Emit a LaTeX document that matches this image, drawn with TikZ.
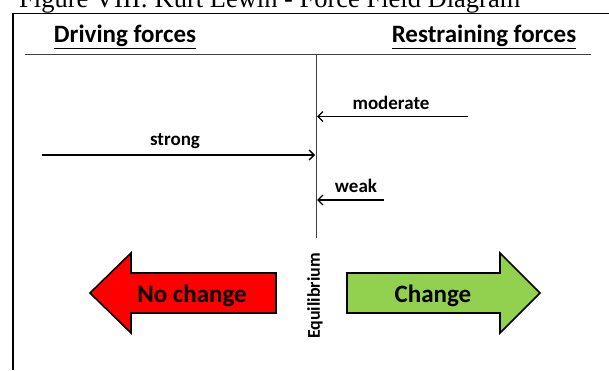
\documentclass[tikz,border=0pt]{standalone}
\usepackage{fontspec}
\setmainfont{Carlito}
\newfontfamily\titlefont{Liberation Serif}
\usetikzlibrary{arrows.meta}
\definecolor{chgreen}{RGB}{146,208,80}
\tikzset{
  force/.style={line width=1.3pt,-{Straight Barb[length=5pt,width=10pt,line width=1.3pt]}},
  forcelabel/.style={font=\bfseries\fontsize{19}{22}\selectfont,inner sep=0pt},
  eqlabel/.style={font=\bfseries\fontsize{18}{21}\selectfont,inner sep=0pt},
  heading/.style={font=\bfseries\fontsize{25}{28}\selectfont,inner sep=0pt},
  bigarrow/.style={draw=black,line width=1.6pt,line join=miter},
  bigtext/.style={font=\bfseries\fontsize{25}{28}\selectfont,inner sep=0pt},
  sepline/.style={line width=0.9pt,draw=black!75}
}
\begin{document}
\begin{tikzpicture}[x=1pt,y=1pt]
\useasboundingbox (0,0) rectangle (609,370);
\clip (0,0) rectangle (609,370);
% title (cut off at the top)
\node[anchor=base west,inner sep=0pt,font=\titlefont\fontsize{26.5}{30}\selectfont] (title) at (19,362.5) {Figure VIII: Kurt Lewin - Force Field Diagram};
% frame
\draw[line width=1.6pt] (13,0) -- (13,356.5) -- (620,356.5);
% headings
\node[heading] (drv) at (125,333) {\underline{Driving forces}};
\node[heading] (rst) at (484,333) {\underline{Restraining forces}};
% separator and equilibrium line
\coordinate (sepL) at (25,316);
\coordinate (sepR) at (591,316);
\coordinate (eqT) at (316,316);
\coordinate (eqB) at (316,132);
\draw[sepline] (sepL) -- (sepR);
\draw[sepline] (eqT) -- (eqB);
% forces
\coordinate (modS) at (468,253.5);
\coordinate (modE) at (317,253.5);
\coordinate (strS) at (42,215);
\coordinate (strE) at (315,215);
\coordinate (wkS) at (384,170);
\coordinate (wkE) at (317,170);
\draw[force] (modS) -- (modE);
\draw[force] (strS) -- (strE);
\draw[force] (wkS) -- (wkE);
\node[forcelabel,anchor=base] (modL) at (391,261) {moderate};
\node[forcelabel,anchor=base] (strL) at (175,225) {strong};
\node[forcelabel,anchor=base] (wkL) at (356,178) {weak};
% big arrows
\draw[bigarrow,fill=red] (90,77) -- (131,117) -- (131,97) -- (276,97) -- (276,57) -- (131,57) -- (131,37) -- cycle;
\draw[bigarrow,fill=chgreen] (540,77) -- (500,117) -- (500,97) -- (347,97) -- (347,57) -- (500,57) -- (500,37) -- cycle;
\node[bigtext,anchor=base] (noch) at (192,68) {No change};
\node[bigtext,anchor=base] (ch) at (433,68) {Change};
\node[eqlabel,rotate=90] (eq) at (315,74) {Equilibrium};
\end{tikzpicture}
\end{document}
